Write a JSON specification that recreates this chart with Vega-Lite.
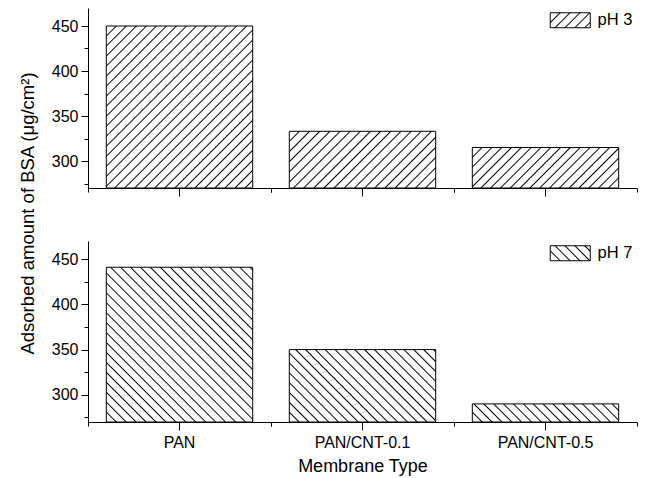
{
"$schema": "https://vega.github.io/schema/vega-lite/v6.json",
"padding": {"left": 18, "top": 8, "right": 5, "bottom": 5},
"config": {"font": "Liberation Sans", "view": {"stroke": null}, "axis": {"grid": false, "domainColor": "black", "tickColor": "black", "labelColor": "black", "titleColor": "black", "labelFontSize": 16, "titleFontSize": 18, "titleFontWeight": "normal"}},
"title": {"text": "Adsorbed amount of BSA (μg/cm²)", "orient": "left", "anchor": "middle", "fontSize": 18.5, "fontWeight": "normal", "color": "black", "offset": 14, "dx": 28},
"data": {"values": [
 {"membrane": "PAN", "pH": "pH 3", "value": 450},
 {"membrane": "PAN/CNT-0.1", "pH": "pH 3", "value": 333},
 {"membrane": "PAN/CNT-0.5", "pH": "pH 3", "value": 315},
 {"membrane": "PAN", "pH": "pH 7", "value": 441},
 {"membrane": "PAN/CNT-0.1", "pH": "pH 7", "value": 350},
 {"membrane": "PAN/CNT-0.5", "pH": "pH 7", "value": 290}
]},
"spacing": 44,
"resolve": {"scale": {"stroke": "independent"}, "legend": {"stroke": "independent"}},
"vconcat": [
{
 "width": 549, "height": 180,
 "transform": [{"filter": "datum.pH === 'pH 3'"}],
 "encoding": {
  "y": {"field": "value", "type": "quantitative", "scale": {"domain": [270, 470], "nice": false, "zero": false},
   "axis": {"title": null, "values": [275,300,325,350,375,400,425,450], "labelExpr": "datum.value % 50 === 0 ? datum.label : ''", "tickSize": {"condition": {"test": "datum.value % 50 === 0", "value": 7}, "value": 4}, "labelPadding": 3}},
  "y2": {"datum": 270}
 },
 "resolve": {"axis": {"x": "independent"}},
 "layer": [
  {"transform": [{"filter": "datum.membrane === 'PAN'"}],
   "encoding": {"x": {"field": "membrane", "type": "nominal", "scale": {"domain": ["PAN","PAN/CNT-0.1","PAN/CNT-0.5"], "paddingInner": 0.2, "paddingOuter": 0.1}, "axis": {"orient": "bottom", "title": null, "labels": false, "tickSize": 8}}},
   "mark": {"type": "bar", "stroke": "black", "strokeWidth": 1, "fill": {"gradient": "linear", "id": "hatchA1", "x1": 0, "y1": 0, "x2": 0.947, "y2": 1.048, "stops": [
{"offset":0.028,"color":"#fff"},{"offset":0.0325,"color":"#000"},{"offset":0.037,"color":"#fff"},
{"offset":0.0605,"color":"#fff"},{"offset":0.065,"color":"#000"},{"offset":0.0695,"color":"#fff"},
{"offset":0.093,"color":"#fff"},{"offset":0.0975,"color":"#000"},{"offset":0.102,"color":"#fff"},
{"offset":0.1255,"color":"#fff"},{"offset":0.13,"color":"#000"},{"offset":0.1345,"color":"#fff"},
{"offset":0.158,"color":"#fff"},{"offset":0.1625,"color":"#000"},{"offset":0.167,"color":"#fff"},
{"offset":0.1905,"color":"#fff"},{"offset":0.195,"color":"#000"},{"offset":0.1995,"color":"#fff"},
{"offset":0.223,"color":"#fff"},{"offset":0.2275,"color":"#000"},{"offset":0.232,"color":"#fff"},
{"offset":0.2555,"color":"#fff"},{"offset":0.26,"color":"#000"},{"offset":0.2645,"color":"#fff"},
{"offset":0.288,"color":"#fff"},{"offset":0.2925,"color":"#000"},{"offset":0.297,"color":"#fff"},
{"offset":0.3205,"color":"#fff"},{"offset":0.325,"color":"#000"},{"offset":0.3295,"color":"#fff"},
{"offset":0.353,"color":"#fff"},{"offset":0.3575,"color":"#000"},{"offset":0.362,"color":"#fff"},
{"offset":0.3855,"color":"#fff"},{"offset":0.39,"color":"#000"},{"offset":0.3945,"color":"#fff"},
{"offset":0.418,"color":"#fff"},{"offset":0.4225,"color":"#000"},{"offset":0.427,"color":"#fff"},
{"offset":0.4505,"color":"#fff"},{"offset":0.455,"color":"#000"},{"offset":0.4595,"color":"#fff"},
{"offset":0.483,"color":"#fff"},{"offset":0.4875,"color":"#000"},{"offset":0.492,"color":"#fff"},
{"offset":0.5155,"color":"#fff"},{"offset":0.52,"color":"#000"},{"offset":0.5245,"color":"#fff"},
{"offset":0.548,"color":"#fff"},{"offset":0.5525,"color":"#000"},{"offset":0.557,"color":"#fff"},
{"offset":0.5805,"color":"#fff"},{"offset":0.585,"color":"#000"},{"offset":0.5895,"color":"#fff"},
{"offset":0.613,"color":"#fff"},{"offset":0.6175,"color":"#000"},{"offset":0.622,"color":"#fff"},
{"offset":0.6455,"color":"#fff"},{"offset":0.65,"color":"#000"},{"offset":0.6545,"color":"#fff"},
{"offset":0.678,"color":"#fff"},{"offset":0.6825,"color":"#000"},{"offset":0.687,"color":"#fff"},
{"offset":0.7105,"color":"#fff"},{"offset":0.715,"color":"#000"},{"offset":0.7195,"color":"#fff"},
{"offset":0.743,"color":"#fff"},{"offset":0.7475,"color":"#000"},{"offset":0.752,"color":"#fff"},
{"offset":0.7755,"color":"#fff"},{"offset":0.78,"color":"#000"},{"offset":0.7845,"color":"#fff"},
{"offset":0.808,"color":"#fff"},{"offset":0.8125,"color":"#000"},{"offset":0.817,"color":"#fff"},
{"offset":0.8405,"color":"#fff"},{"offset":0.845,"color":"#000"},{"offset":0.8495,"color":"#fff"},
{"offset":0.873,"color":"#fff"},{"offset":0.8775,"color":"#000"},{"offset":0.882,"color":"#fff"},
{"offset":0.9055,"color":"#fff"},{"offset":0.91,"color":"#000"},{"offset":0.9145,"color":"#fff"},
{"offset":0.938,"color":"#fff"},{"offset":0.9425,"color":"#000"},{"offset":0.947,"color":"#fff"},
{"offset":0.9705,"color":"#fff"},{"offset":0.975,"color":"#000"},{"offset":0.9795,"color":"#fff"}]}}},
  {"transform": [{"filter": "datum.membrane === 'PAN/CNT-0.1'"}],
   "encoding": {"x": {"field": "membrane", "type": "nominal", "scale": {"domain": ["PAN","PAN/CNT-0.1","PAN/CNT-0.5"], "paddingInner": 0.2, "paddingOuter": 0.1}, "axis": {"orient": "bottom", "title": null, "labels": false, "domain": false, "tickSize": 4, "bandPosition": -0.125}}},
   "mark": {"type": "bar", "stroke": "black", "strokeWidth": 1, "fill": {"gradient": "linear", "id": "hatchA2", "x1": 0, "y1": 0, "x2": 1.2063, "y2": 0.4672, "stops": [
{"offset":0.043,"color":"#fff"},{"offset":0.05,"color":"#000"},{"offset":0.057,"color":"#fff"},
{"offset":0.093,"color":"#fff"},{"offset":0.1,"color":"#000"},{"offset":0.107,"color":"#fff"},
{"offset":0.143,"color":"#fff"},{"offset":0.15,"color":"#000"},{"offset":0.157,"color":"#fff"},
{"offset":0.193,"color":"#fff"},{"offset":0.2,"color":"#000"},{"offset":0.207,"color":"#fff"},
{"offset":0.243,"color":"#fff"},{"offset":0.25,"color":"#000"},{"offset":0.257,"color":"#fff"},
{"offset":0.293,"color":"#fff"},{"offset":0.3,"color":"#000"},{"offset":0.307,"color":"#fff"},
{"offset":0.343,"color":"#fff"},{"offset":0.35,"color":"#000"},{"offset":0.357,"color":"#fff"},
{"offset":0.393,"color":"#fff"},{"offset":0.4,"color":"#000"},{"offset":0.407,"color":"#fff"},
{"offset":0.443,"color":"#fff"},{"offset":0.45,"color":"#000"},{"offset":0.457,"color":"#fff"},
{"offset":0.493,"color":"#fff"},{"offset":0.5,"color":"#000"},{"offset":0.507,"color":"#fff"},
{"offset":0.543,"color":"#fff"},{"offset":0.55,"color":"#000"},{"offset":0.557,"color":"#fff"},
{"offset":0.593,"color":"#fff"},{"offset":0.6,"color":"#000"},{"offset":0.607,"color":"#fff"},
{"offset":0.643,"color":"#fff"},{"offset":0.65,"color":"#000"},{"offset":0.657,"color":"#fff"},
{"offset":0.693,"color":"#fff"},{"offset":0.7,"color":"#000"},{"offset":0.707,"color":"#fff"},
{"offset":0.743,"color":"#fff"},{"offset":0.75,"color":"#000"},{"offset":0.757,"color":"#fff"},
{"offset":0.793,"color":"#fff"},{"offset":0.8,"color":"#000"},{"offset":0.807,"color":"#fff"},
{"offset":0.843,"color":"#fff"},{"offset":0.85,"color":"#000"},{"offset":0.857,"color":"#fff"},
{"offset":0.893,"color":"#fff"},{"offset":0.9,"color":"#000"},{"offset":0.907,"color":"#fff"},
{"offset":0.943,"color":"#fff"},{"offset":0.95,"color":"#000"},{"offset":0.957,"color":"#fff"}]}}},
  {"transform": [{"filter": "datum.membrane === 'PAN/CNT-0.5'"}],
   "encoding": {"x": {"field": "membrane", "type": "nominal", "scale": {"domain": ["PAN","PAN/CNT-0.1","PAN/CNT-0.5"], "paddingInner": 0.2, "paddingOuter": 0.1}, "axis": {"orient": "bottom", "title": null, "labels": false, "domain": false, "tickSize": 4, "bandPosition": 1.125}}},
   "mark": {"type": "bar", "stroke": "black", "strokeWidth": 1, "fill": {"gradient": "linear", "id": "hatchA3", "x1": 0, "y1": 0, "x2": 1.1859, "y2": 0.3281, "stops": [
{"offset":0.045,"color":"#fff"},{"offset":0.0525,"color":"#000"},{"offset":0.06,"color":"#fff"},
{"offset":0.0975,"color":"#fff"},{"offset":0.105,"color":"#000"},{"offset":0.1125,"color":"#fff"},
{"offset":0.15,"color":"#fff"},{"offset":0.1575,"color":"#000"},{"offset":0.165,"color":"#fff"},
{"offset":0.2025,"color":"#fff"},{"offset":0.21,"color":"#000"},{"offset":0.2175,"color":"#fff"},
{"offset":0.255,"color":"#fff"},{"offset":0.2625,"color":"#000"},{"offset":0.27,"color":"#fff"},
{"offset":0.3075,"color":"#fff"},{"offset":0.315,"color":"#000"},{"offset":0.3225,"color":"#fff"},
{"offset":0.36,"color":"#fff"},{"offset":0.3675,"color":"#000"},{"offset":0.375,"color":"#fff"},
{"offset":0.4125,"color":"#fff"},{"offset":0.42,"color":"#000"},{"offset":0.4275,"color":"#fff"},
{"offset":0.465,"color":"#fff"},{"offset":0.4725,"color":"#000"},{"offset":0.48,"color":"#fff"},
{"offset":0.5175,"color":"#fff"},{"offset":0.525,"color":"#000"},{"offset":0.5325,"color":"#fff"},
{"offset":0.57,"color":"#fff"},{"offset":0.5775,"color":"#000"},{"offset":0.585,"color":"#fff"},
{"offset":0.6225,"color":"#fff"},{"offset":0.63,"color":"#000"},{"offset":0.6375,"color":"#fff"},
{"offset":0.675,"color":"#fff"},{"offset":0.6825,"color":"#000"},{"offset":0.69,"color":"#fff"},
{"offset":0.7275,"color":"#fff"},{"offset":0.735,"color":"#000"},{"offset":0.7425,"color":"#fff"},
{"offset":0.78,"color":"#fff"},{"offset":0.7875,"color":"#000"},{"offset":0.795,"color":"#fff"},
{"offset":0.8325,"color":"#fff"},{"offset":0.84,"color":"#000"},{"offset":0.8475,"color":"#fff"},
{"offset":0.885,"color":"#fff"},{"offset":0.8925,"color":"#000"},{"offset":0.9,"color":"#fff"},
{"offset":0.9375,"color":"#fff"},{"offset":0.945,"color":"#000"},{"offset":0.9525,"color":"#fff"}]}}},
  {"transform": [{"filter": "false"}],
   "encoding": {"stroke": {"field": "pH", "type": "nominal", "scale": {"domain": ["pH 3"], "range": ["black"]},
    "legend": {"orient": "top-right", "offset": 4, "padding": 0, "title": null, "symbolType": "M-2.667,-1H2.667V1H-2.667Z", "symbolSize": 225, "symbolStrokeWidth": 1, "labelFontSize": 16.5, "labelColor": "black", "labelOffset": 19}}},
   "mark": {"type": "bar", "strokeWidth": 1, "fill": {"gradient": "linear", "id": "hatchL3", "x1": 0, "y1": 0, "x2": 1.2055, "y2": 0.4521, "stops": [
{"offset":0.155,"color":"#fff"},{"offset":0.18,"color":"#000"},{"offset":0.205,"color":"#fff"},
{"offset":0.335,"color":"#fff"},{"offset":0.36,"color":"#000"},{"offset":0.385,"color":"#fff"},
{"offset":0.515,"color":"#fff"},{"offset":0.54,"color":"#000"},{"offset":0.565,"color":"#fff"},
{"offset":0.695,"color":"#fff"},{"offset":0.72,"color":"#000"},{"offset":0.745,"color":"#fff"},
{"offset":0.875,"color":"#fff"},{"offset":0.9,"color":"#000"},{"offset":0.925,"color":"#fff"}]}}}
 ]
},
{
 "width": 549, "height": 181,
 "transform": [{"filter": "datum.pH === 'pH 7'"}],
 "encoding": {
  "y": {"field": "value", "type": "quantitative", "scale": {"domain": [270, 470], "nice": false, "zero": false},
   "axis": {"title": null, "values": [275,300,325,350,375,400,425,450], "labelExpr": "datum.value % 50 === 0 ? datum.label : ''", "tickSize": {"condition": {"test": "datum.value % 50 === 0", "value": 7}, "value": 4}, "labelPadding": 3}},
  "y2": {"datum": 270}
 },
 "resolve": {"axis": {"x": "independent"}},
 "layer": [
  {"transform": [{"filter": "datum.membrane === 'PAN'"}],
   "encoding": {"x": {"field": "membrane", "type": "nominal", "scale": {"domain": ["PAN","PAN/CNT-0.1","PAN/CNT-0.5"], "paddingInner": 0.2, "paddingOuter": 0.1}, "axis": {"orient": "bottom", "title": "Membrane Type", "labelAngle": 0, "tickSize": 8, "labelPadding": 4, "titlePadding": 7}}},
   "mark": {"type": "bar", "stroke": "black", "strokeWidth": 1, "fill": {"gradient": "linear", "id": "hatchB1", "x1": 0, "y1": 1, "x2": 0.9716, "y2": -0.0271, "stops": [
{"offset":0.0285,"color":"#fff"},{"offset":0.033,"color":"#000"},{"offset":0.0375,"color":"#fff"},
{"offset":0.0615,"color":"#fff"},{"offset":0.066,"color":"#000"},{"offset":0.0705,"color":"#fff"},
{"offset":0.0945,"color":"#fff"},{"offset":0.099,"color":"#000"},{"offset":0.1035,"color":"#fff"},
{"offset":0.1275,"color":"#fff"},{"offset":0.132,"color":"#000"},{"offset":0.1365,"color":"#fff"},
{"offset":0.1605,"color":"#fff"},{"offset":0.165,"color":"#000"},{"offset":0.1695,"color":"#fff"},
{"offset":0.1935,"color":"#fff"},{"offset":0.198,"color":"#000"},{"offset":0.2025,"color":"#fff"},
{"offset":0.2265,"color":"#fff"},{"offset":0.231,"color":"#000"},{"offset":0.2355,"color":"#fff"},
{"offset":0.2595,"color":"#fff"},{"offset":0.264,"color":"#000"},{"offset":0.2685,"color":"#fff"},
{"offset":0.2925,"color":"#fff"},{"offset":0.297,"color":"#000"},{"offset":0.3015,"color":"#fff"},
{"offset":0.3255,"color":"#fff"},{"offset":0.33,"color":"#000"},{"offset":0.3345,"color":"#fff"},
{"offset":0.3585,"color":"#fff"},{"offset":0.363,"color":"#000"},{"offset":0.3675,"color":"#fff"},
{"offset":0.3915,"color":"#fff"},{"offset":0.396,"color":"#000"},{"offset":0.4005,"color":"#fff"},
{"offset":0.4245,"color":"#fff"},{"offset":0.429,"color":"#000"},{"offset":0.4335,"color":"#fff"},
{"offset":0.4575,"color":"#fff"},{"offset":0.462,"color":"#000"},{"offset":0.4665,"color":"#fff"},
{"offset":0.4905,"color":"#fff"},{"offset":0.495,"color":"#000"},{"offset":0.4995,"color":"#fff"},
{"offset":0.5235,"color":"#fff"},{"offset":0.528,"color":"#000"},{"offset":0.5325,"color":"#fff"},
{"offset":0.5565,"color":"#fff"},{"offset":0.561,"color":"#000"},{"offset":0.5655,"color":"#fff"},
{"offset":0.5895,"color":"#fff"},{"offset":0.594,"color":"#000"},{"offset":0.5985,"color":"#fff"},
{"offset":0.6225,"color":"#fff"},{"offset":0.627,"color":"#000"},{"offset":0.6315,"color":"#fff"},
{"offset":0.6555,"color":"#fff"},{"offset":0.66,"color":"#000"},{"offset":0.6645,"color":"#fff"},
{"offset":0.6885,"color":"#fff"},{"offset":0.693,"color":"#000"},{"offset":0.6975,"color":"#fff"},
{"offset":0.7215,"color":"#fff"},{"offset":0.726,"color":"#000"},{"offset":0.7305,"color":"#fff"},
{"offset":0.7545,"color":"#fff"},{"offset":0.759,"color":"#000"},{"offset":0.7635,"color":"#fff"},
{"offset":0.7875,"color":"#fff"},{"offset":0.792,"color":"#000"},{"offset":0.7965,"color":"#fff"},
{"offset":0.8205,"color":"#fff"},{"offset":0.825,"color":"#000"},{"offset":0.8295,"color":"#fff"},
{"offset":0.8535,"color":"#fff"},{"offset":0.858,"color":"#000"},{"offset":0.8625,"color":"#fff"},
{"offset":0.8865,"color":"#fff"},{"offset":0.891,"color":"#000"},{"offset":0.8955,"color":"#fff"},
{"offset":0.9195,"color":"#fff"},{"offset":0.924,"color":"#000"},{"offset":0.9285,"color":"#fff"},
{"offset":0.9525,"color":"#fff"},{"offset":0.957,"color":"#000"},{"offset":0.9615,"color":"#fff"},
{"offset":0.9855,"color":"#fff"},{"offset":0.99,"color":"#000"},{"offset":0.9945,"color":"#fff"}]}}},
  {"transform": [{"filter": "datum.membrane === 'PAN/CNT-0.1'"}],
   "encoding": {"x": {"field": "membrane", "type": "nominal", "scale": {"domain": ["PAN","PAN/CNT-0.1","PAN/CNT-0.5"], "paddingInner": 0.2, "paddingOuter": 0.1}, "axis": {"orient": "bottom", "title": null, "labels": false, "domain": false, "tickSize": 4, "bandPosition": -0.125}}},
   "mark": {"type": "bar", "stroke": "black", "strokeWidth": 1, "fill": {"gradient": "linear", "id": "hatchB2", "x1": 0, "y1": 1, "x2": 1.2008, "y2": 0.4062, "stops": [
{"offset":0.0385,"color":"#fff"},{"offset":0.045,"color":"#000"},{"offset":0.0515,"color":"#fff"},
{"offset":0.0835,"color":"#fff"},{"offset":0.09,"color":"#000"},{"offset":0.0965,"color":"#fff"},
{"offset":0.1285,"color":"#fff"},{"offset":0.135,"color":"#000"},{"offset":0.1415,"color":"#fff"},
{"offset":0.1735,"color":"#fff"},{"offset":0.18,"color":"#000"},{"offset":0.1865,"color":"#fff"},
{"offset":0.2185,"color":"#fff"},{"offset":0.225,"color":"#000"},{"offset":0.2315,"color":"#fff"},
{"offset":0.2635,"color":"#fff"},{"offset":0.27,"color":"#000"},{"offset":0.2765,"color":"#fff"},
{"offset":0.3085,"color":"#fff"},{"offset":0.315,"color":"#000"},{"offset":0.3215,"color":"#fff"},
{"offset":0.3535,"color":"#fff"},{"offset":0.36,"color":"#000"},{"offset":0.3665,"color":"#fff"},
{"offset":0.3985,"color":"#fff"},{"offset":0.405,"color":"#000"},{"offset":0.4115,"color":"#fff"},
{"offset":0.4435,"color":"#fff"},{"offset":0.45,"color":"#000"},{"offset":0.4565,"color":"#fff"},
{"offset":0.4885,"color":"#fff"},{"offset":0.495,"color":"#000"},{"offset":0.5015,"color":"#fff"},
{"offset":0.5335,"color":"#fff"},{"offset":0.54,"color":"#000"},{"offset":0.5465,"color":"#fff"},
{"offset":0.5785,"color":"#fff"},{"offset":0.585,"color":"#000"},{"offset":0.5915,"color":"#fff"},
{"offset":0.6235,"color":"#fff"},{"offset":0.63,"color":"#000"},{"offset":0.6365,"color":"#fff"},
{"offset":0.6685,"color":"#fff"},{"offset":0.675,"color":"#000"},{"offset":0.6815,"color":"#fff"},
{"offset":0.7135,"color":"#fff"},{"offset":0.72,"color":"#000"},{"offset":0.7265,"color":"#fff"},
{"offset":0.7585,"color":"#fff"},{"offset":0.765,"color":"#000"},{"offset":0.7715,"color":"#fff"},
{"offset":0.8035,"color":"#fff"},{"offset":0.81,"color":"#000"},{"offset":0.8165,"color":"#fff"},
{"offset":0.8485,"color":"#fff"},{"offset":0.855,"color":"#000"},{"offset":0.8615,"color":"#fff"},
{"offset":0.8935,"color":"#fff"},{"offset":0.9,"color":"#000"},{"offset":0.9065,"color":"#fff"},
{"offset":0.9385,"color":"#fff"},{"offset":0.945,"color":"#000"},{"offset":0.9515,"color":"#fff"},
{"offset":0.9835,"color":"#fff"},{"offset":0.99,"color":"#000"},{"offset":0.9965,"color":"#fff"}]}}},
  {"transform": [{"filter": "datum.membrane === 'PAN/CNT-0.5'"}],
   "encoding": {"x": {"field": "membrane", "type": "nominal", "scale": {"domain": ["PAN","PAN/CNT-0.1","PAN/CNT-0.5"], "paddingInner": 0.2, "paddingOuter": 0.1}, "axis": {"orient": "bottom", "title": null, "labels": false, "domain": false, "tickSize": 4, "bandPosition": 1.125}}},
   "mark": {"type": "bar", "stroke": "black", "strokeWidth": 1, "fill": {"gradient": "linear", "id": "hatchB3", "x1": 0, "y1": 1, "x2": 1.1068, "y2": 0.8632, "stops": [
{"offset":0.0515,"color":"#fff"},{"offset":0.06,"color":"#000"},{"offset":0.0685,"color":"#fff"},
{"offset":0.1115,"color":"#fff"},{"offset":0.12,"color":"#000"},{"offset":0.1285,"color":"#fff"},
{"offset":0.1715,"color":"#fff"},{"offset":0.18,"color":"#000"},{"offset":0.1885,"color":"#fff"},
{"offset":0.2315,"color":"#fff"},{"offset":0.24,"color":"#000"},{"offset":0.2485,"color":"#fff"},
{"offset":0.2915,"color":"#fff"},{"offset":0.3,"color":"#000"},{"offset":0.3085,"color":"#fff"},
{"offset":0.3515,"color":"#fff"},{"offset":0.36,"color":"#000"},{"offset":0.3685,"color":"#fff"},
{"offset":0.4115,"color":"#fff"},{"offset":0.42,"color":"#000"},{"offset":0.4285,"color":"#fff"},
{"offset":0.4715,"color":"#fff"},{"offset":0.48,"color":"#000"},{"offset":0.4885,"color":"#fff"},
{"offset":0.5315,"color":"#fff"},{"offset":0.54,"color":"#000"},{"offset":0.5485,"color":"#fff"},
{"offset":0.5915,"color":"#fff"},{"offset":0.6,"color":"#000"},{"offset":0.6085,"color":"#fff"},
{"offset":0.6515,"color":"#fff"},{"offset":0.66,"color":"#000"},{"offset":0.6685,"color":"#fff"},
{"offset":0.7115,"color":"#fff"},{"offset":0.72,"color":"#000"},{"offset":0.7285,"color":"#fff"},
{"offset":0.7715,"color":"#fff"},{"offset":0.78,"color":"#000"},{"offset":0.7885,"color":"#fff"},
{"offset":0.8315,"color":"#fff"},{"offset":0.84,"color":"#000"},{"offset":0.8485,"color":"#fff"},
{"offset":0.8915,"color":"#fff"},{"offset":0.9,"color":"#000"},{"offset":0.9085,"color":"#fff"},
{"offset":0.9515,"color":"#fff"},{"offset":0.96,"color":"#000"},{"offset":0.9685,"color":"#fff"}]}}},
  {"transform": [{"filter": "false"}],
   "encoding": {"stroke": {"field": "pH", "type": "nominal", "scale": {"domain": ["pH 7"], "range": ["black"]},
    "legend": {"orient": "top-right", "offset": 4, "padding": 0, "title": null, "symbolType": "M-2.667,-1H2.667V1H-2.667Z", "symbolSize": 225, "symbolStrokeWidth": 1, "labelFontSize": 16.5, "labelColor": "black", "labelOffset": 19}}},
   "mark": {"type": "bar", "strokeWidth": 1, "fill": {"gradient": "linear", "id": "hatchL7", "x1": 0, "y1": 1, "x2": 1.2055, "y2": 0.5479, "stops": [
{"offset":0.155,"color":"#fff"},{"offset":0.18,"color":"#000"},{"offset":0.205,"color":"#fff"},
{"offset":0.335,"color":"#fff"},{"offset":0.36,"color":"#000"},{"offset":0.385,"color":"#fff"},
{"offset":0.515,"color":"#fff"},{"offset":0.54,"color":"#000"},{"offset":0.565,"color":"#fff"},
{"offset":0.695,"color":"#fff"},{"offset":0.72,"color":"#000"},{"offset":0.745,"color":"#fff"},
{"offset":0.875,"color":"#fff"},{"offset":0.9,"color":"#000"},{"offset":0.925,"color":"#fff"}]}}}
 ]
}
]
}
